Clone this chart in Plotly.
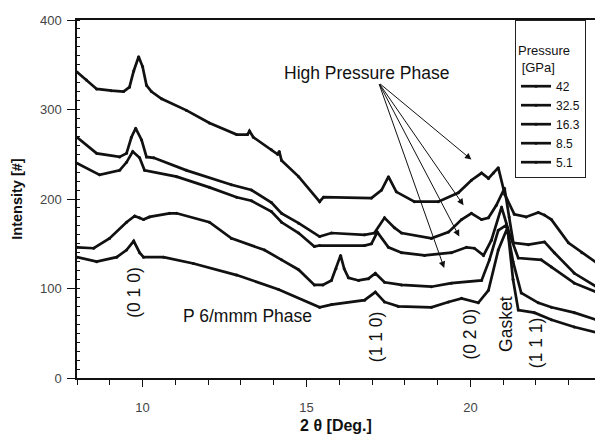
import plotly.graph_objects as go

# ---- data (2theta in deg, intensity in counts) ----
pressures = ["42", "32.5", "16.3", "8.5", "5.1"]

x_42 = [8.0, 8.29, 8.60, 9.05, 9.42, 9.60, 9.73, 9.88, 10.0, 10.12, 10.27, 10.58, 11.34, 12.04, 12.87,
        13.2, 13.26, 13.38, 13.93, 14.12, 14.17, 14.24, 14.76, 15.40, 15.52, 16.98, 17.29, 17.50, 17.74,
        18.29, 19.02, 19.63, 20.03, 20.34, 20.55, 20.70, 20.85, 21.05, 21.34, 21.7, 22.07, 22.26, 22.47,
        22.99, 23.4, 23.84]
y_42 = [342, 333, 323, 321, 320, 325, 343, 359, 348, 327, 320, 312, 299, 285, 272,
        272, 276, 269, 255, 250, 253, 243, 225, 197, 202, 201, 210, 225, 208,
        197, 197, 207, 221, 229, 223, 229, 235, 205, 183, 180, 185, 182, 177,
        151, 140, 129]

x_325 = [8.0, 8.6, 9.3, 9.51, 9.66, 9.79, 9.97, 10.12, 10.34, 11.34, 12.71, 13.32, 13.93, 14.24, 14.76,
         15.40, 15.76, 16.77, 17.07, 17.38, 17.68, 17.90, 18.81, 19.33, 19.73, 20.03, 20.34, 20.55,
         20.79, 21.04, 21.18, 21.31, 21.77, 22.26, 22.56, 23.17, 23.84]
y_325 = [269, 251, 247, 251, 269, 279, 266, 247, 246, 232, 216, 210, 196, 184, 173,
         158, 162, 160, 162, 179, 168, 162, 156, 163, 177, 184, 177, 179,
         193, 212, 180, 151, 149, 152, 140, 117, 102]

x_163 = [8.0, 8.69, 9.30, 9.51, 9.70, 9.91, 10.06, 11.04, 12.04, 12.87, 13.32, 13.93, 14.24, 14.76,
         15.24, 15.40, 16.77, 16.98, 17.16, 17.50, 17.90, 18.60, 19.42, 19.88, 20.12, 20.40, 20.64,
         20.95, 21.2, 21.46, 22.16, 22.47, 23.17, 23.84]
y_163 = [240, 227, 232, 241, 253, 246, 232, 225, 213, 202, 198, 186, 174, 162,
         147, 148, 148, 150, 163, 146, 140, 137, 140, 146, 145, 137, 154,
         191, 160, 134, 132, 124, 106, 96]

x_85 = [8.0, 8.51, 8.99, 9.51, 9.76, 9.91, 10.03, 10.21, 10.82, 11.04, 12.04, 12.71, 13.72, 14.24, 14.76,
        15.24, 15.5, 15.76, 15.9, 16.04, 16.15, 16.28, 16.59, 16.89, 17.10, 17.38, 17.90, 18.81, 19.42,
        20.34, 20.58, 20.85, 21.10, 21.3, 21.55, 22.07, 22.47, 23.17, 23.84]
y_85 = [146, 145, 156, 174, 181, 179, 177, 180, 184, 184, 174, 156, 143, 132, 121,
        104, 104, 109, 122, 137, 122, 112, 109, 111, 117, 107, 104, 102, 106,
        109, 132, 165, 171, 130, 95, 84, 79, 73, 65]

x_51 = [8.0, 8.60, 9.21, 9.51, 9.73, 9.91, 10.03, 10.64, 11.55, 12.87, 14.15, 15.40, 15.76, 16.77,
        17.10, 17.38, 17.80, 18.81, 19.33, 19.73, 20.24, 20.55, 20.85, 21.13, 21.3, 21.46, 21.95,
        22.47, 23.17, 23.84]
y_51 = [135, 130, 135, 143, 153, 140, 135, 135, 128, 115, 99, 79, 82, 87,
        96, 85, 80, 79, 85, 89, 84, 98, 143, 168, 110, 76, 73,
        65, 57, 51]

series_x = [x_42, x_325, x_163, x_85, x_51]
series_y = [y_42, y_325, y_163, y_85, y_51]

# annotation texts
peak_labels = ["(0 1 0)", "(1 1 0)", "(0 2 0)", "Gasket", "(1 1 1)"]
peak_label_x = [9.73, 17.1, 20.0, 21.1, 22.0]
peak_label_y = [96, 46, 49, 61, 40]

arrow_head_x = [20.03, 19.79, 19.66, 19.2]
arrow_head_y = [244, 193, 158, 123]
arrow_tail = (17.2, 330)

FONT = "Liberation Sans, Arial, Helvetica, sans-serif"

fig = go.Figure()
for name, xs, ys in zip(pressures, series_x, series_y):
    fig.add_trace(go.Scatter(
        x=xs, y=ys, name=name, mode="lines+markers",
        line=dict(color="#111111", width=2.7),
        marker=dict(color="#111111", size=3),
    ))

annotations = []
annotations.append(dict(x=16.83, y=341, xref="x", yref="y", text="High Pressure Phase",
                        showarrow=False, font=dict(family=FONT, size=17.5, color="#111111")))
for hx, hy in zip(arrow_head_x, arrow_head_y):
    annotations.append(dict(x=hx, y=hy, ax=arrow_tail[0], ay=arrow_tail[1], xref="x", yref="y",
                            axref="x", ayref="y", text="", showarrow=True, arrowhead=2,
                            arrowsize=1.3, arrowwidth=1, arrowcolor="#111111"))
for t, px, py in zip(peak_labels, peak_label_x, peak_label_y):
    annotations.append(dict(x=px, y=py, xref="x", yref="y", text=t, textangle=-90,
                            showarrow=False, font=dict(family=FONT, size=17.5, color="#111111")))
annotations.append(dict(x=13.2, y=69, xref="x", yref="y", text="P 6/mmm Phase",
                        showarrow=False, font=dict(family=FONT, size=17.5, color="#111111")))

fig.update_layout(
    width=595, height=436,
    margin=dict(l=77, r=0, t=20, b=58, autoexpand=False),
    paper_bgcolor="white", plot_bgcolor="white",
    font=dict(family=FONT, color="#111111"),
    showlegend=True,
    legend=dict(
        x=0.8456, y=1.0, xanchor="left", yanchor="top",
        bgcolor="white", bordercolor="#222222", borderwidth=1,
        title=dict(text="<br>Pressure<br> [GPa]", font=dict(family=FONT, size=13, color="#111111")),
        font=dict(family=FONT, size=12, color="#111111"),
        itemwidth=30, tracegroupgap=0, entrywidth=75,
    ),
    annotations=annotations,
    xaxis=dict(
        range=[8.0, 23.8], showgrid=False, zeroline=False, automargin=False,
        showline=True, linecolor="#111111", linewidth=1.5, mirror=True,
        ticks="outside", ticklen=7, tickcolor="#111111", tickwidth=1.2,
        tickmode="array", tickvals=[10, 15, 20], ticktext=["10", "15", "20"],
        ticklabelstandoff=10,
        tickfont=dict(family=FONT, size=13, color="#444444"),
        minor=dict(ticks="outside", ticklen=5, tickcolor="#111111", dtick=1, tick0=8, showgrid=False),
        title=dict(text="<b>2 θ [Deg.]</b>", font=dict(family=FONT, size=16, color="#111111"), standoff=5),
    ),
    yaxis=dict(
        range=[0, 400], showgrid=False, zeroline=False, automargin=False,
        showline=True, linecolor="#111111", linewidth=1.5, mirror=False,
        ticks="outside", ticklen=8, tickcolor="#111111", tickwidth=1.2,
        tickmode="array", tickvals=[0, 100, 200, 300, 400],
        ticklabelstandoff=3,
        tickfont=dict(family=FONT, size=13, color="#444444"),
        minor=dict(ticks="inside", ticklen=3, tickcolor="#111111", dtick=10, tick0=0, showgrid=False),
        title=dict(text="<b>Intensity [#]</b>", font=dict(family=FONT, size=14.5, color="#111111"), standoff=14),
    ),
)

fig.write_html("out.html", config={"displayModeBar": False},
               post_script="document.body.style.margin='0px';")
